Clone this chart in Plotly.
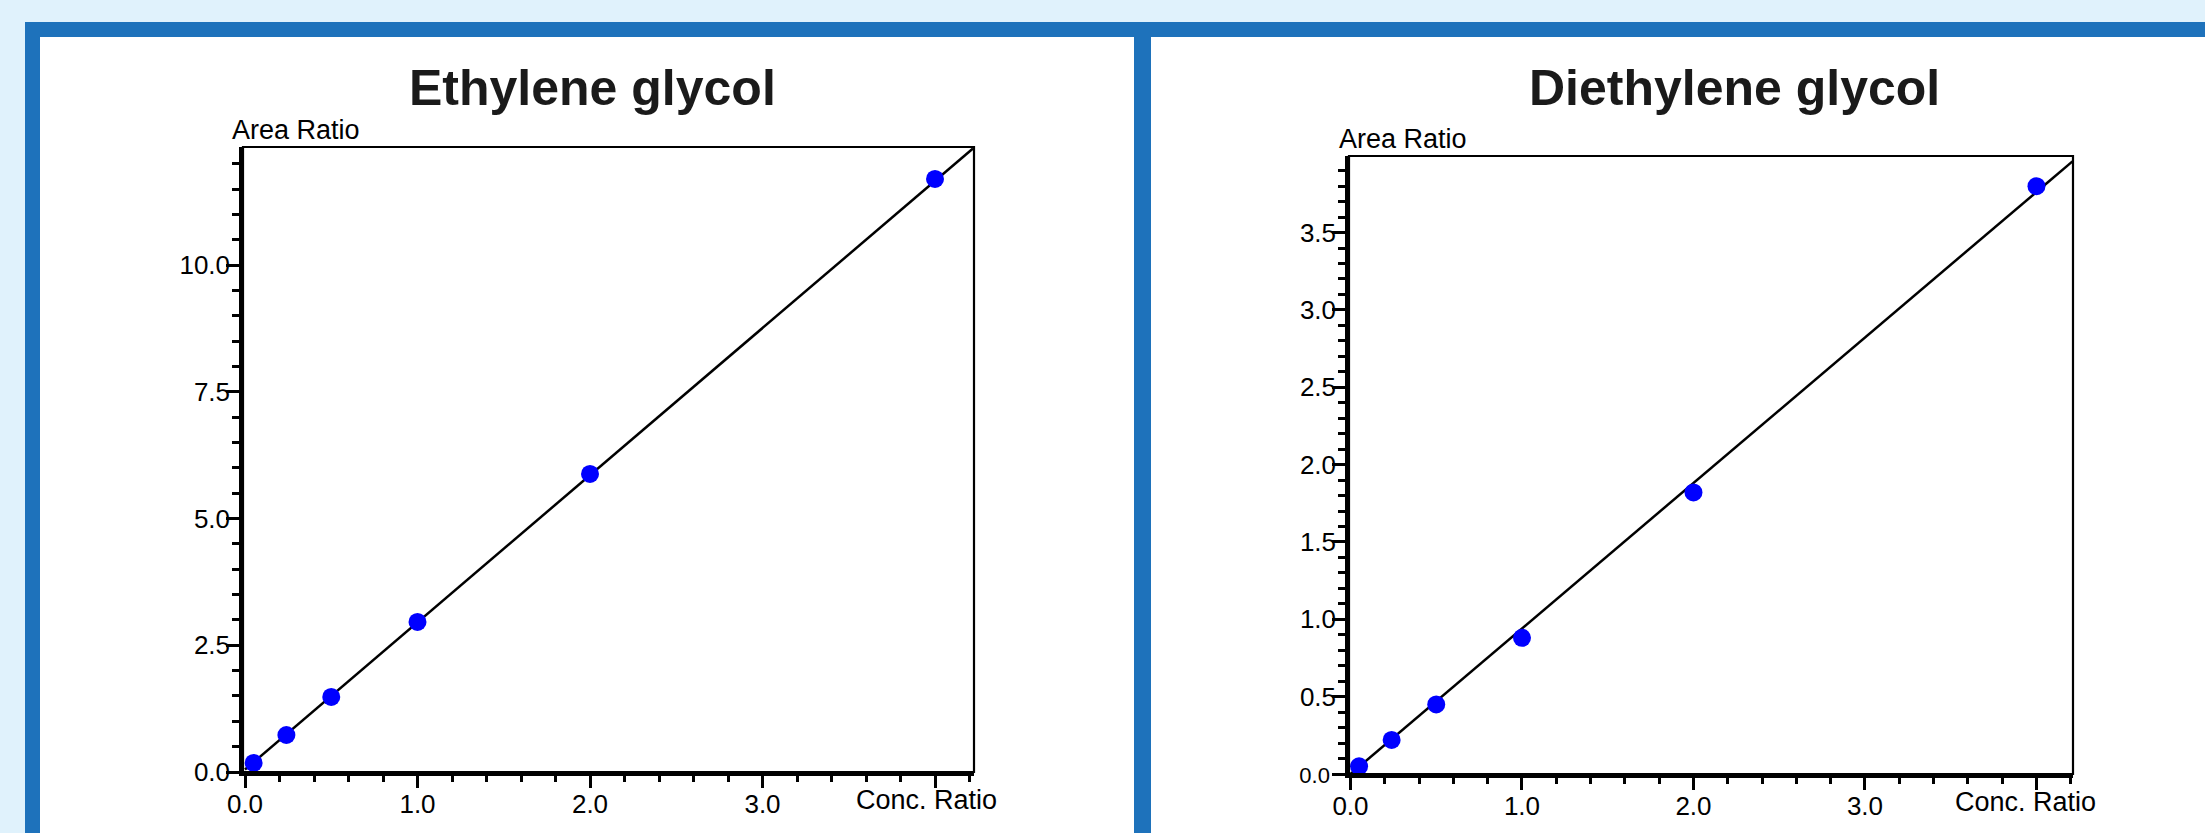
import plotly.graph_objects as go

W, H = 2205, 833

# ---- data ----
eg_conc = [0.05, 0.24, 0.5, 1.0, 2.0, 4.0]
eg_area = [0.18, 0.73, 1.48, 2.96, 5.88, 11.7]
eg_fit_x = [0.0, 4.22]
eg_fit_y = [0.05, 12.30]

deg_conc = [0.05, 0.24, 0.5, 1.0, 2.0, 4.0]
deg_area = [0.05, 0.22, 0.45, 0.88, 1.82, 3.80]
deg_fit_x = [0.0, 4.21]
deg_fit_y = [0.0, 3.96]

titles = ["Ethylene glycol", "Diethylene glycol"]
x_tickvals = [0, 1, 2, 3, 4]
x_ticktext = ["0.0", "1.0", "2.0", "3.0", ""]
eg_y_tickvals = [0, 2.5, 5.0, 7.5, 10.0]
eg_y_ticktext = ["0.0", "2.5", "5.0", "7.5", "10.0"]
deg_y_tickvals = [0, 0.5, 1.0, 1.5, 2.0, 2.5, 3.0, 3.5]
deg_y_ticktext = ["<span style='font-size:22px'>0.0 </span>", "0.5", "1.0", "1.5",
                  "2.0", "2.5", "3.0", "3.5"]

FONT = "Liberation Sans, Arial, sans-serif"
BLUE = "#1E72BB"
LIGHT = "#E0F2FC"


def px(x):
    return x / W


def py(y):
    return 1 - y / H


fig = go.Figure()

fig.add_trace(go.Scatter(x=eg_fit_x, y=eg_fit_y, mode="lines",
                         line=dict(color="black", width=2.5), xaxis="x", yaxis="y"))
fig.add_trace(go.Scatter(x=eg_conc, y=eg_area, mode="markers",
                         marker=dict(color="#0000FF", size=18), xaxis="x", yaxis="y"))
fig.add_trace(go.Scatter(x=deg_fit_x, y=deg_fit_y, mode="lines",
                         line=dict(color="black", width=2.5), xaxis="x2", yaxis="y2"))
fig.add_trace(go.Scatter(x=deg_conc, y=deg_area, mode="markers",
                         marker=dict(color="#0000FF", size=18), xaxis="x2", yaxis="y2"))

tickfont = dict(family=FONT, size=26, color="black")

common_x = dict(showgrid=False, zeroline=False, showline=True, linecolor="black", linewidth=3.5,
                ticks="outside", ticklen=12, tickwidth=3, tickcolor="black", automargin=False,
                tickvals=x_tickvals, ticktext=x_ticktext, tickfont=tickfont, ticklabelstandoff=-6,
                minor=dict(dtick=0.2, tick0=0, ticks="outside", ticklen=6, tickwidth=2.5, tickcolor="black"))
common_y = dict(showgrid=False, zeroline=False, showline=True, linecolor="black", linewidth=3.5,
                ticks="outside", ticklen=13, tickwidth=3, tickcolor="black", tickfont=tickfont,
                automargin=False, ticklabelstandoff=-9)

fig.update_layout(
    width=W, height=H, margin=dict(l=0, r=0, t=0, b=0, pad=0, autoexpand=False),
    paper_bgcolor=LIGHT, plot_bgcolor="white", showlegend=False,
    xaxis=dict(domain=[px(243), px(974)], range=[-0.0116, 4.226], anchor="y", **common_x),
    yaxis=dict(domain=[py(772), py(147)], range=[0, 12.33], anchor="x",
               tickvals=eg_y_tickvals, ticktext=eg_y_ticktext,
               minor=dict(dtick=0.5, tick0=0, ticks="outside", ticklen=7, tickwidth=2.5, tickcolor="black"),
               **common_y),
    xaxis2=dict(domain=[px(1349), px(2073)], range=[-0.0087, 4.213], anchor="y2", **common_x),
    yaxis2=dict(domain=[py(774), py(156)], range=[0, 3.995], anchor="x2",
                tickvals=deg_y_tickvals, ticktext=deg_y_ticktext,
                minor=dict(dtick=0.1, tick0=0, ticks="outside", ticklen=7, tickwidth=2.5, tickcolor="black"),
                **common_y),
)

shapes = [
    dict(type="rect", xref="paper", yref="paper", x0=px(25), x1=1, y0=0, y1=py(22),
         fillcolor=BLUE, line=dict(width=0), layer="below"),
    dict(type="rect", xref="paper", yref="paper", x0=px(40), x1=px(1134), y0=0, y1=py(37),
         fillcolor="white", line=dict(width=0), layer="below"),
    dict(type="rect", xref="paper", yref="paper", x0=px(1151), x1=1, y0=0, y1=py(37),
         fillcolor="white", line=dict(width=0), layer="below"),
    dict(type="rect", xref="x domain", yref="y domain", x0=0, x1=1, y0=0, y1=1,
         line=dict(color="black", width=2.2)),
    dict(type="rect", xref="x2 domain", yref="y2 domain", x0=0, x1=1, y0=0, y1=1,
         line=dict(color="black", width=2.2)),
]
fig.update_layout(shapes=shapes)

ann = []
for cx, t in zip([592, 1734], titles):
    ann.append(dict(x=px(cx), y=py(88), xref="paper", yref="paper", text="<b>%s</b>" % t,
                    showarrow=False, xanchor="center", yanchor="middle",
                    font=dict(family=FONT, size=50, color="#1a1a1a")))
for lx, cy in [(230, 130), (1337, 139.5)]:
    ann.append(dict(x=px(lx), y=py(cy), xref="paper", yref="paper", text="Area Ratio",
                    showarrow=False, xanchor="left", yanchor="middle",
                    font=dict(family=FONT, size=27, color="black")))
for cx, cy in [(926, 800), (2025, 802)]:
    ann.append(dict(x=px(cx), y=py(cy), xref="paper", yref="paper", text="Conc. Ratio",
                    showarrow=False, xanchor="center", yanchor="middle",
                    font=dict(family=FONT, size=27, color="black")))
fig.update_layout(annotations=ann)

fig.write_html("out.html", config={"displayModeBar": False},
               post_script="document.body.style.margin='0px';document.body.style.overflow='hidden';")
